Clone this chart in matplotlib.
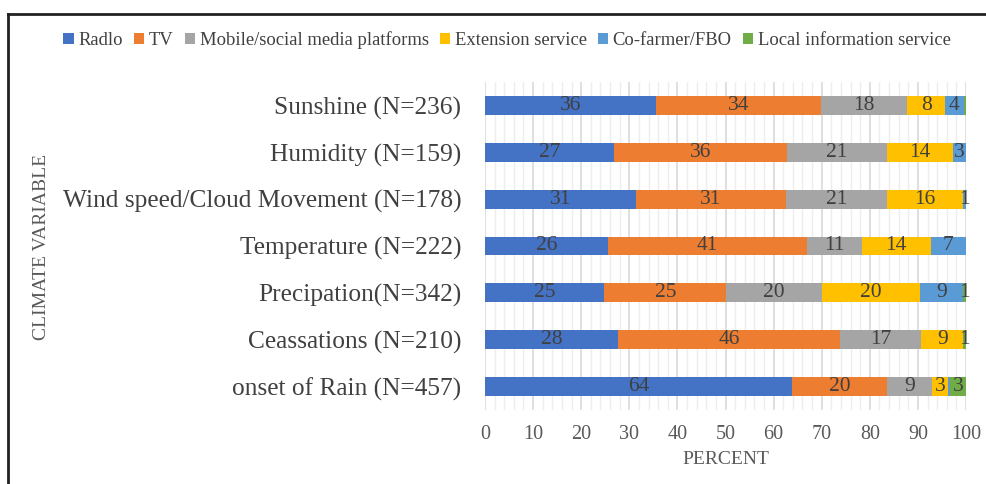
import matplotlib.pyplot as plt
from matplotlib.lines import Line2D
from matplotlib.ticker import MultipleLocator

plt.rcParams['font.family'] = ['Liberation Serif', 'DejaVu Serif']

# climate variables, bottom to top
variables = ['onset of Rain (N=457)', 'Ceassations (N=210)', 'Precipation(N=342)',
             'Temperature (N=222)', 'Wind speed/Cloud Movement (N=178)',
             'Humidity (N=159)', 'Sunshine (N=236)']
sources = ['Radlo', 'TV', 'Mobile/social media platforms', 'Extension service',
           'Co-farmer/FBO', 'Local information service']

# percent of respondents per source, same order as variables
radio = [63.8, 27.6, 24.8, 25.6, 31.3, 26.9, 35.6]
tv = [19.8, 46.2, 25.4, 41.4, 31.3, 35.8, 34.3]
mobile = [9.4, 16.9, 19.8, 11.3, 21.0, 20.8, 17.9]
extension = [3.3, 8.7, 20.4, 14.4, 15.7, 13.8, 7.8]
cofarmer = [0.4, 0.0, 8.9, 7.3, 0.7, 2.7, 4.0]
local = [3.3, 0.6, 0.7, 0.0, 0.0, 0.0, 0.4]

series = [radio, tv, mobile, extension, cofarmer, local]
colors = ['#4472C4', '#ED7D31', '#A5A5A5', '#FFC000', '#5B9BD5', '#70AD47']

fig = plt.figure(figsize=(9.87, 4.84), dpi=100)
ax = fig.add_axes([485 / 987, 1 - 410 / 484, 481 / 987, 328 / 484])

y = list(range(len(variables)))
left = [0.0] * len(variables)
for vals, name, col in zip(series, sources, colors):
    bars = ax.barh(y, vals, left=left, height=0.4, color=col, label=name, zorder=3)
    labels = ['%d' % round(v) if round(v) >= 1 else '' for v in vals]
    ax.bar_label(bars, labels=labels, label_type='center', fontsize=15.5,
                 color='#404040')
    left = [a + b for a, b in zip(left, vals)]

ax.set_xlim(0, 100)
ax.set_ylim(-0.5, len(variables) - 0.5)
ax.xaxis.set_major_locator(MultipleLocator(10))
ax.xaxis.set_minor_locator(MultipleLocator(2))
ax.grid(axis='x', which='major', color='#d9d9d9', linewidth=1.2, zorder=0)
ax.grid(axis='x', which='minor', color='#ededed', linewidth=1.0, zorder=0)
ax.set_yticks(y)
ax.set_yticklabels(variables, fontsize=18.3, color='#404040')
ax.tick_params(axis='both', which='both', length=0)
ax.tick_params(axis='x', labelsize=14.5, labelcolor='#595959', pad=11)
ax.tick_params(axis='y', pad=17)
for s in ax.spines.values():
    s.set_visible(False)

ax.set_xlabel('PERCENT', fontsize=14, color='#595959', labelpad=5)
fig.text(42 / 987, 1 - 247 / 484, 'CLIMATE VARIABLE', rotation=90,
         fontsize=14, color='#595959', ha='center', va='center')

handles, labs = ax.get_legend_handles_labels()
fig.legend(handles, labs, loc='center', bbox_to_anchor=(507 / 987, 1 - 40 / 484),
           ncol=6, frameon=False, fontsize=13.4, handlelength=0.55,
           handleheight=0.55, handletextpad=0.25, columnspacing=0.6,
           labelcolor='#404040')

# frame lines along the top and left edge
fig.add_artist(Line2D([8 / 987, 1], [1 - 14 / 484, 1 - 14 / 484],
                      color='#222222', linewidth=2, transform=fig.transFigure))
fig.add_artist(Line2D([8 / 987, 8 / 987], [0, 1 - 14 / 484],
                      color='#222222', linewidth=2, transform=fig.transFigure))

fig.savefig('out.png', dpi=100)
